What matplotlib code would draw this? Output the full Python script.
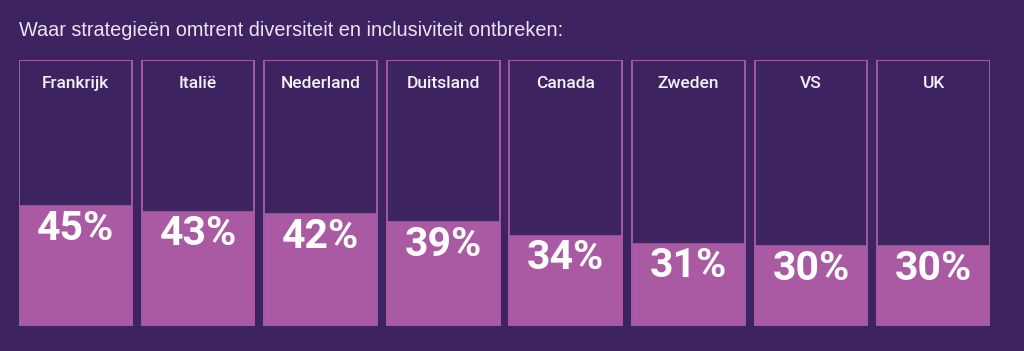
import matplotlib
matplotlib.use("Agg")
import matplotlib.pyplot as plt

countries = ["Frankrijk", "Italië", "Nederland", "Duitsland", "Canada", "Zweden", "VS", "UK"]
values = [45, 43, 42, 39, 34, 31, 30, 30]
title = "Waar strategieën omtrent diversiteit en inclusiviteit ontbreken:"

BG = "#3d2461"
FILL = "#aa5aa3"
EDGE = "#a25aa6"
TXT = "#ffffff"

W, H = 1024, 351
fig = plt.figure(figsize=(W / 100, H / 100), dpi=100, facecolor=BG)
ax = fig.add_axes([19 / W, 25 / H, 971 / W, 266 / H])
ax.set_facecolor(BG)
ax.set_xlim(-0.46, len(countries) - 1 + 0.46)
ax.set_ylim(0, 100)
ax.axis("off")

x = list(range(len(countries)))
ax.bar(x, values, width=0.92, color=FILL, edgecolor=FILL, linewidth=1.2, zorder=2)
ax.bar(x, [100] * len(x), width=0.92, facecolor="none", edgecolor=EDGE, linewidth=1.4, zorder=3)

for xi, c, v in zip(x, countries, values):
    ax.text(xi, 91, c, ha="center", va="center", color="#f6f0fa", fontsize=12.5,
            family="Roboto", fontweight="medium", zorder=4)
    ax.text(xi, v - 8.5, f"{v}%", ha="center", va="center", color=TXT, fontsize=29.5,
            family="Roboto", fontweight="bold", zorder=4)

fig.text(19 / W, 1 - 31 / H, title, ha="left", va="center", color="#ece4f2",
         fontsize=14.3, family="Liberation Sans")

fig.savefig("out.png", dpi=100, facecolor=BG)
